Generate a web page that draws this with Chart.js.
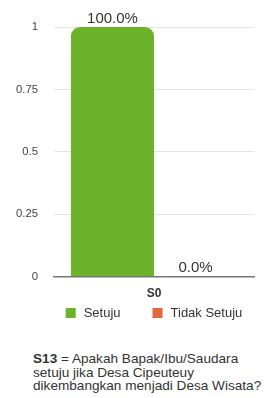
<!DOCTYPE html>
<html>
<head>
<meta charset="utf-8">
<script src="https://cdn.jsdelivr.net/npm/chart.js@4.4.0/dist/chart.umd.min.js"></script>
<style>
  body { margin: 0; background: #fff; font-family: "Liberation Sans", Arial, sans-serif; }
  #wrap { position: relative; width: 267px; height: 330px; }
  #note { position: absolute; left: 33px; top: 352px; font-size: 13.6px; line-height: 13.6px; color: #333; white-space: nowrap; }
</style>
</head>
<body>
<div id="wrap"><canvas id="mycanvas"></canvas></div>
<div id="note"><b>S13</b> = Apakah Bapak/Ibu/Saudara<br>setuju jika Desa Cipeuteuy<br>dikembangkan menjadi Desa Wisata?</div>
<script>
var categories = ["S0"];
var seriesNames = ["Setuju", "Tidak Setuju"];
var setuju = [1];
var tidakSetuju = [0];
var yTicks = [0, 0.25, 0.5, 0.75, 1];

var FONT = '"Liberation Sans", Arial, sans-serif';

// percent value above every bar
var valueLabels = {
	id: 'valueLabels',
	afterDatasetsDraw: function(chart) {
		var ctx = chart.ctx;
		ctx.save();
		ctx.font = '15px ' + FONT;
		ctx.fillStyle = '#333';
		ctx.textAlign = 'center';
		ctx.textBaseline = 'bottom';
		chart.data.datasets.forEach(function(ds, i) {
			var meta = chart.getDatasetMeta(i);
			meta.data.forEach(function(bar, j) {
				var v = ds.data[j];
				ctx.fillText((v * 100).toFixed(1) + '%', bar.x, bar.y - 1);
			});
		});
		ctx.restore();
	}
};

// legend under the axis, wider spacing than the built in one
var bottomLegend = {
	id: 'bottomLegend',
	afterDraw: function(chart) {
		var ctx = chart.ctx;
		var box = 10, gap = 8, spacing = 32;
		ctx.save();
		ctx.font = '13px ' + FONT;
		ctx.textBaseline = 'middle';
		var ds = chart.data.datasets;
		var total = 0;
		ds.forEach(function(d, i) {
			total += box + gap + ctx.measureText(d.label).width;
			if (i > 0) total += spacing;
		});
		var x = (chart.chartArea.left + chart.chartArea.right) / 2 - total / 2;
		var y = chart.height - 17;
		ds.forEach(function(d) {
			ctx.fillStyle = d.backgroundColor;
			ctx.fillRect(x, y - box / 2, box, box);
			x += box + gap;
			ctx.fillStyle = '#333';
			ctx.fillText(d.label, x, y + 0.5);
			x += ctx.measureText(d.label).width + spacing;
		});
		ctx.restore();
	}
};

var chartdata = {
	labels: categories,
	datasets: [
		{
			label: seriesNames[0],
			backgroundColor: "#6cb22a",
			borderRadius: { topLeft: 9, topRight: 9 },
			borderSkipped: 'bottom',
			data: setuju
		},
		{
			label: seriesNames[1],
			backgroundColor: "#e6663e",
			data: tidakSetuju
		}
	]
};

var ctx = document.getElementById("mycanvas");

var BarGraph = new Chart(ctx, {
	type: 'bar',
	data: chartdata,
	plugins: [valueLabels, bottomLegend],
	options: {
		responsive: true,
		maintainAspectRatio: false,
		animation: false,
		layout: { padding: { top: 27, left: 0, right: 13, bottom: 27 } },
		datasets: { bar: { categoryPercentage: 0.83, barPercentage: 1 } },
		scales: {
			y: {
				min: 0,
				max: 1,
				afterBuildTicks: function(axis) {
					axis.ticks = yTicks.map(function(v) { return { value: v }; });
				},
				border: { display: false },
				grid: { color: '#e4e4e4', drawTicks: false },
				ticks: {
					padding: 16,
					color: '#444',
					font: { size: 11.3, family: FONT },
					callback: function(v) { return String(v); }
				}
			},
			x: {
				border: { display: true, color: '#777', width: 1.5 },
				grid: { display: false },
				ticks: { padding: 2, color: '#333', font: { size: 12, weight: 'bold', family: FONT } }
			}
		},
		plugins: {
			tooltip: { enabled: false },
			legend: { display: false }
		}
	}
});
</script>
</body>
</html>
